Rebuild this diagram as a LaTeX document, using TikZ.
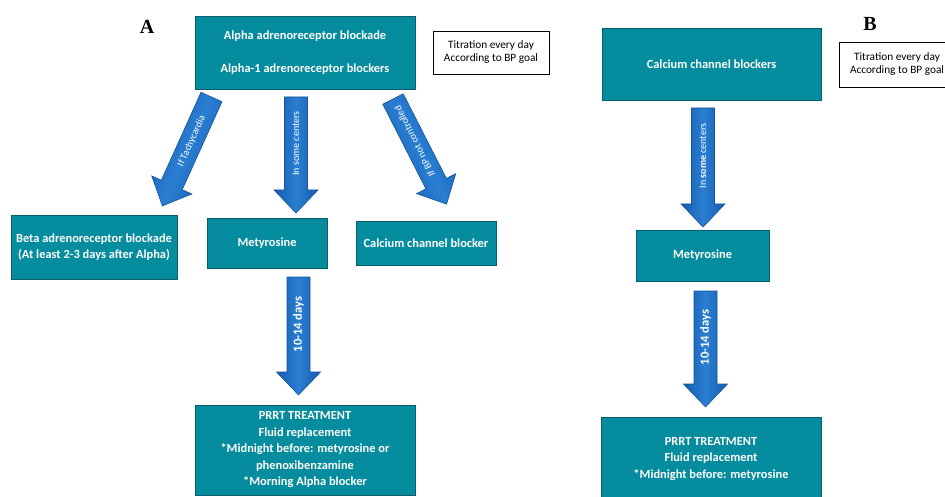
\documentclass[tikz,border=0pt]{standalone}
\usepackage{fontspec}
\setmainfont{Carlito}
\newfontfamily\serifbold{Liberation Serif}
\usetikzlibrary{calc}
\definecolor{boxteal}{HTML}{058C9E}
\definecolor{boxedge}{HTML}{0B5D6B}
\definecolor{arrblue}{HTML}{2A7ED2}
\definecolor{arrdark}{HTML}{165CAE}
\definecolor{arredge}{HTML}{14559C}
\tikzset{
  tealbox/.style={rectangle, fill=boxteal, draw=boxedge, line width=0.9pt,
    text=white, font=\bfseries\fontsize{12.4}{16.5}\selectfont, align=center,
    inner sep=2pt},
  notebox/.style={rectangle, fill=white, draw=black, line width=0.6pt,
    font=\fontsize{11.3}{13}\selectfont, align=center, inner sep=2pt},
  panellabel/.style={font=\serifbold\bfseries\fontsize{20}{22}\selectfont},
  arrowbody/.style={draw=arredge, line width=0.6pt, top color=arrdark,
    bottom color=arrdark, middle color=arrblue},
  arrowtext/.style={text=white, font=\fontsize{10}{11}\selectfont, inner sep=0pt},
  arrowtextbig/.style={text=white, font=\bfseries\fontsize{12.5}{13}\selectfont, inner sep=0pt}
}
% #1 tail coordinate, #2 direction angle, #3 length, #4 text style, #5 label
\newcommand{\blockarrow}[5]{%
  \begin{scope}[shift={(#1)}, rotate=#2]
    \path[arrowbody, shading angle=#2] (0,-11.5) -- ({#3-23},-11.5) -- ({#3-23},-22) -- (#3,0)
      -- ({#3-23},22) -- ({#3-23},11.5) -- (0,11.5) -- cycle;
    \node[#4, rotate=#2+180] at ({(#3-23)/2},0) {#5};
  \end{scope}}
\begin{document}
\begin{tikzpicture}[x=1pt,y=1pt]
\useasboundingbox (0,0) rectangle (945,496);
\clip (0,0) rectangle (945,496);
% ---------- panel A ----------
\node[panellabel] (labA) at (147,469) {A};
\node[tealbox, minimum width=220pt, minimum height=73pt] (alpha) at (305,443.5)
  {Alpha adrenoreceptor blockade\\[16.5pt]Alpha-1 adrenoreceptor blockers};
\node[notebox, minimum width=116pt, minimum height=43pt] (titA) at (491,443.5)
  {Titration every day\\According to BP goal};
\node[tealbox, minimum width=166pt, minimum height=64pt] (beta) at (94,249)
  {Beta adrenoreceptor blockade\\(At least 2-3 days after Alpha)};
\node[tealbox, minimum width=120pt, minimum height=50pt] (metA) at (267,253) {Metyrosine};
\node[tealbox, minimum width=140pt, minimum height=44pt] (ccbA) at (426,253) {Calcium channel blocker};
\node[tealbox, minimum width=220pt, minimum height=90pt] (prrtA) at (305,46)
  {PRRT TREATMENT\\Fluid replacement\\*Midnight before: metyrosine or\\phenoxibenzamine\\*Morning Alpha blocker};
\coordinate (tL) at (211.5,399);
\coordinate (tM) at (296,399);
\coordinate (tR) at (393,397);
\coordinate (tD) at (298.5,219);
\blockarrow{tL}{-114.3}{119.5}{arrowtext}{If Tachycardia}
\blockarrow{tM}{-90}{116}{arrowtext}{In some centers}
\blockarrow{tR}{-63}{118}{arrowtext}{If BP not controlled}
\blockarrow{tD}{-90}{118}{arrowtextbig}{10-14 days}
% ---------- panel B ----------
\node[panellabel] (labB) at (870,472) {B};
\node[tealbox, minimum width=219pt, minimum height=72pt] (ccbB) at (711.5,432) {Calcium channel blockers};
\node[notebox, minimum width=116pt, minimum height=45pt] (titB) at (897,431.5)
  {Titration every day\\According to BP goal};
\node[tealbox, minimum width=133pt, minimum height=51pt] (metB) at (702.5,240.5) {Metyrosine};
\node[tealbox, minimum width=220pt, minimum height=84pt] (prrtB) at (711,37)
  {PRRT TREATMENT\\Fluid replacement\\*Midnight before: metyrosine};
\coordinate (tB1) at (703,388);
\coordinate (tB2) at (705.5,205);
\blockarrow{tB1}{-90}{119}{arrowtext}{In \textbf{some} centers}
\blockarrow{tB2}{-90}{116}{arrowtextbig}{10-14 days}
\end{tikzpicture}
\end{document}
